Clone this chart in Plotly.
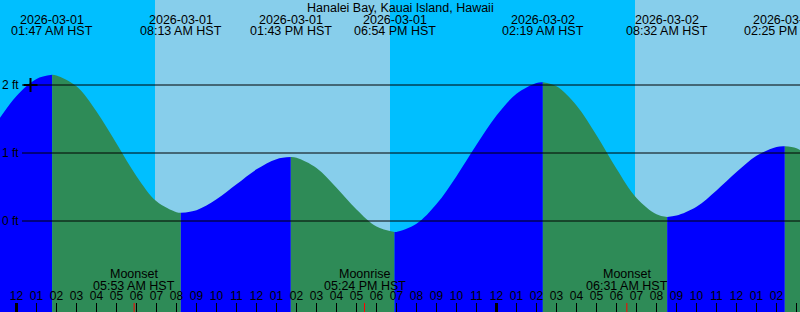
import pandas as pd
import plotly.graph_objects as go

TITLE = "Hanalei Bay, Kauai Island, Hawaii"

# Tide extremes (high / low)
extreme_times = ["2026-03-01 01:47", "2026-03-01 08:13", "2026-03-01 13:43",
                 "2026-03-01 18:54", "2026-03-02 02:19", "2026-03-02 08:32",
                 "2026-03-02 14:25"]
extreme_ft = [2.15, 0.12, 0.94, -0.16, 2.04, 0.06, 1.10]
extreme_date_labels = ["2026-03-01", "2026-03-01", "2026-03-01", "2026-03-01",
                       "2026-03-02", "2026-03-02", "2026-03-02"]
extreme_time_labels = ["01:47 AM HST", "08:13 AM HST", "01:43 PM HST", "06:54 PM HST",
                       "02:19 AM HST", "08:32 AM HST", "02:25 PM HST"]

# Hourly tide readings, from 2026-02-28 23:00 to 2026-03-02 16:00
hourly_start = "2026-02-28 23:00"
hourly_ft = [1.44, 1.84, 2.09, 2.14, 1.98, 1.61, 1.14, 0.66, 0.29, 0.13,
             0.16, 0.32, 0.54, 0.76, 0.91, 0.93, 0.78, 0.49, 0.17, -0.08,
             -0.16, -0.04, 0.25, 0.66, 1.12, 1.55, 1.87, 2.03, 1.98, 1.70,
             1.26, 0.77, 0.34, 0.10, 0.08, 0.21, 0.45, 0.72, 0.96, 1.09,
             1.07, 0.88]

# Sun: sunrise, sunset, sunrise
sun_times = ["2026-03-01 06:55:30", "2026-03-01 18:40:30", "2026-03-02 06:55:30"]

# Moon events
moon_times = ["2026-03-01 05:53", "2026-03-01 17:24", "2026-03-02 06:31"]
moon_events = ["Moonset", "Moonrise", "Moonset"]
moon_time_labels = ["05:53 AM HST", "05:24 PM HST", "06:31 AM HST"]

midnights = ["2026-03-01 00:00", "2026-03-02 00:00"]
now_time = ["2026-03-01 00:42"]
now_ft = [2.0]

grid_ft = [0, 1, 2]
grid_labels = ["0 ft", "1 ft", "2 ft"]

X_RANGE = ["2026-02-28 23:10:30", "2026-03-02 15:10:30"]
Y_RANGE = [-1.338, 3.25]

NIGHT = "#00BFFF"
DAY = "#87CEEB"
RISING = "#0000FF"
FALLING = "#2E8B57"
FONT = "Liberation Sans"
W, H = 800, 312

# ---- build tide segments ----
hourly_times = pd.date_range(hourly_start, periods=len(hourly_ft), freq="h")
pts = [(t, h) for t, h in zip(hourly_times, hourly_ft)]
pts += [(pd.Timestamp(t), h) for t, h in zip(extreme_times, extreme_ft)]
pts.sort(key=lambda p: p[0])
breaks = [hourly_times[0]] + [pd.Timestamp(t) for t in extreme_times] + [hourly_times[-1]]

fig = go.Figure()
for a, b in zip(breaks[:-1], breaks[1:]):
    seg = [p for p in pts if a <= p[0] <= b]
    xs = [p[0] for p in seg]
    ys = [p[1] for p in seg]
    color = RISING if ys[-1] > ys[0] else FALLING
    fig.add_trace(go.Scatter(x=[xs[0], xs[-1]], y=[-3, -3], mode="lines",
                             line=dict(width=0), hoverinfo="skip", showlegend=False))
    fig.add_trace(go.Scatter(x=xs, y=ys, mode="lines", fill="tonexty", fillcolor=color,
                             line=dict(width=0, shape="spline", smoothing=1),
                             hoverinfo="skip", showlegend=False))

fig.add_trace(go.Scatter(x=now_time, y=now_ft, mode="markers",
                         marker=dict(symbol="cross-thin", size=10,
                                     line=dict(width=2, color="black")),
                         hoverinfo="skip", showlegend=False))

shapes = []
# day rectangles
day_spans = [(sun_times[0], sun_times[1]), (sun_times[2], X_RANGE[1])]
for s, e in day_spans:
    shapes.append(dict(type="rect", xref="x", yref="paper", x0=s, x1=e, y0=0, y1=1,
                       fillcolor=DAY, line=dict(width=0), layer="below"))
# grid lines
for g in grid_ft:
    shapes.append(dict(type="line", xref="paper", yref="y", x0=22 / W, x1=1, y0=g, y1=g,
                       line=dict(color="black", width=1), layer="above"))
# midnight thick ticks
for m in midnights:
    shapes.append(dict(type="line", xref="x", yref="paper", x0=m, x1=m, y0=0, y1=9 / H,
                       line=dict(color="black", width=3), layer="above"))
# moon ticks
for m in moon_times:
    shapes.append(dict(type="line", xref="x", yref="paper", x0=m, x1=m, y0=0, y1=9 / H,
                       line=dict(color="red", width=1), layer="above"))

ann = []
def py(px):
    return 1 - px / H

ann.append(dict(text=TITLE, xref="paper", yref="paper", x=0.5, y=py(7.5),
                showarrow=False, xanchor="center", yanchor="middle",
                font=dict(family=FONT, size=12.5, color="black")))
for t, d, tl in zip(extreme_times, extreme_date_labels, extreme_time_labels):
    ann.append(dict(text=d, xref="x", yref="paper", x=t, y=py(19.5), showarrow=False,
                    xanchor="center", yanchor="middle",
                    font=dict(family=FONT, size=12.5, color="black")))
    ann.append(dict(text=tl, xref="x", yref="paper", x=t, y=py(31.5), showarrow=False,
                    xanchor="center", yanchor="middle",
                    font=dict(family=FONT, size=12.5, color="black")))
for t, ev, tl in zip(moon_times, moon_events, moon_time_labels):
    ann.append(dict(text=ev, xref="x", yref="paper", x=t, y=py(273.5), showarrow=False,
                    xanchor="center", yanchor="middle",
                    font=dict(family=FONT, size=12.5, color="black")))
    ann.append(dict(text=tl, xref="x", yref="paper", x=t, y=py(285.5), showarrow=False,
                    xanchor="center", yanchor="middle",
                    font=dict(family=FONT, size=12.5, color="black")))
for g, lab in zip(grid_ft, grid_labels):
    ann.append(dict(text=lab, xref="paper", yref="y", x=20.5 / W, y=g, showarrow=False,
                    xanchor="right", yanchor="middle",
                    font=dict(family=FONT, size=12, color="black")))

fig.update_layout(
    width=W, height=H, margin=dict(l=0, r=0, t=0, b=0),
    plot_bgcolor=NIGHT, paper_bgcolor=NIGHT,
    shapes=shapes, annotations=ann, showlegend=False,
    xaxis=dict(type="date", range=X_RANGE, showgrid=False, zeroline=False, showline=False,
               ticks="inside", ticklen=9, tickwidth=1, tickcolor="black",
               tick0="2026-03-01 00:00", dtick=3600000, tickformat="%I",
               ticklabelposition="inside", tickfont=dict(family=FONT, size=12, color="black"),
               fixedrange=True),
    yaxis=dict(range=Y_RANGE, showgrid=False, zeroline=False, showline=False,
               showticklabels=False, ticks="", fixedrange=True),
)

fig.write_html("out.html", config={"displayModeBar": False})
